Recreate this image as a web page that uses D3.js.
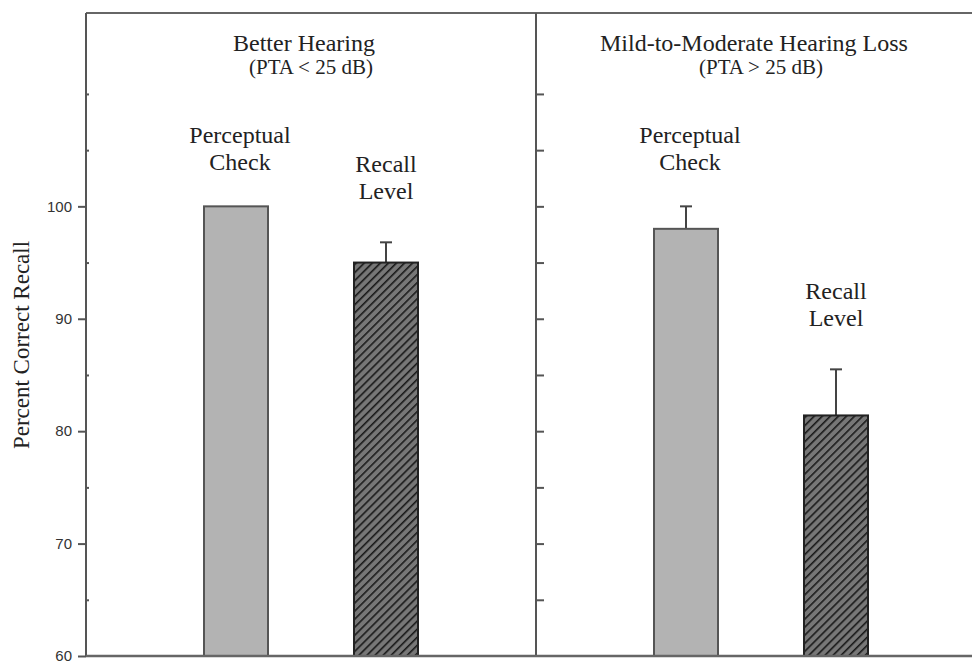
<!DOCTYPE html>
<html>
<head>
  <title>Percent Correct Recall</title>
  <script src="https://d3js.org/d3.v7.min.js"></script>
  <style>
    body { margin: 0; background: #fff; }
    .serif { font-family: "Liberation Serif", "Times New Roman", serif; fill: #222; }
    .tick text { font-family: "Liberation Sans", Arial, sans-serif; font-size: 15px; fill: #333; }
    .axis path, .axis line { stroke: #555; stroke-width: 2; }
  </style>
</head>
<body>
  <script>
    // Data
    var panels = ["Better Hearing", "Mild-to-Moderate Hearing Loss"];
    var subtitles = ["(PTA < 25 dB)", "(PTA > 25 dB)"];
    var conditions = ["Perceptual Check", "Recall Level"];
    var labelLines = [["Perceptual", "Check"], ["Recall", "Level"]];
    var meanBetter = [100, 95.0];
    var errBetter = [0, 1.8];
    var meanLoss = [98.0, 81.4];
    var errLoss = [2.0, 4.1];
    var majorTicks = [60, 70, 80, 90, 100];
    var minorTicks = [65, 75, 85, 95, 105, 110];
    var allTicks = [65, 70, 75, 80, 85, 90, 95, 100, 105, 110];

    var means = [meanBetter, meanLoss];
    var errs = [errBetter, errLoss];

    var width = 972, height = 663;
    var margin = {left: 86, top: 13, bottom: 656};

    var svg = d3.select("body").append("svg")
      .attr("width", width)
      .attr("height", height);

    // hatch pattern for the recall bars
    var pat = svg.append("defs").append("pattern")
      .attr("id", "hatch")
      .attr("patternUnits", "userSpaceOnUse")
      .attr("width", 5.7)
      .attr("height", 5.7)
      .attr("patternTransform", "rotate(45)");
    pat.append("rect").attr("width", 5.7).attr("height", 5.7).attr("fill", "#777");
    pat.append("line").attr("x1", 0).attr("y1", 0).attr("x2", 0).attr("y2", 5.7)
      .attr("stroke", "#1a1a1a").attr("stroke-width", 3.2);

    var fills = ["#b3b3b3", "url(#hatch)"];
    var strokes = ["#555", "#222"];
    var labelOffset = [36, 43];
    var barWidth = 64;

    var y = d3.scaleLinear().domain([60, 117.2]).range([margin.bottom, margin.top]);

    var panelX = d3.scaleBand().domain(panels).range([margin.left, margin.left + 900]);
    var condX = d3.scalePoint().domain(conditions).range([150, 300]);

    // frame: top line
    svg.append("line").attr("x1", margin.left).attr("x2", width)
      .attr("y1", margin.top).attr("y2", margin.top)
      .attr("stroke", "#666").attr("stroke-width", 2);

    panels.forEach(function(p, i) {
      var g = svg.append("g").attr("transform", "translate(" + panelX(p) + ",0)");

      // bars
      conditions.forEach(function(c, j) {
        var cx = condX(c);
        var v = means[i][j], e = errs[i][j];
        if (e > 0) {
          g.append("line").attr("x1", cx).attr("x2", cx)
            .attr("y1", y(v)).attr("y2", y(v + e))
            .attr("stroke", "#444").attr("stroke-width", 2);
          g.append("line").attr("x1", cx - 6).attr("x2", cx + 6)
            .attr("y1", y(v + e)).attr("y2", y(v + e))
            .attr("stroke", "#444").attr("stroke-width", 2);
        }
        g.append("rect")
          .attr("x", cx - barWidth / 2)
          .attr("width", barWidth)
          .attr("y", y(v))
          .attr("height", y(60) - y(v))
          .attr("fill", fills[j])
          .attr("stroke", strokes[j])
          .attr("stroke-width", 2);

        // bar label, two lines above the bar / error bar
        var base = y(v + e) - labelOffset[j];
        labelLines[j].forEach(function(t, k) {
          g.append("text").attr("class", "serif")
            .attr("x", cx + (j === 0 ? 4 : 0))
            .attr("y", base - (labelLines[j].length - 1 - k) * 27)
            .attr("text-anchor", "middle")
            .style("font-size", "24px")
            .text(t);
        });
      });

      // panel titles
      g.append("text").attr("class", "serif")
        .attr("x", 218).attr("y", 51)
        .attr("text-anchor", "middle")
        .style("font-size", "24px")
        .text(p);
      g.append("text").attr("class", "serif")
        .attr("x", 225).attr("y", 74)
        .attr("text-anchor", "middle")
        .style("font-size", "21px")
        .text(subtitles[i]);

      // vertical axis of each panel
      if (i === 0) {
        g.append("g").attr("class", "axis")
          .call(d3.axisLeft(y).tickValues(majorTicks).tickSize(8).tickPadding(6)
            .tickFormat(d3.format("d")))
          .call(function(a) { a.select(".domain").remove(); });
        g.append("g").attr("class", "axis")
          .call(d3.axisRight(y).tickValues(minorTicks).tickSize(3).tickFormat(""))
          .call(function(a) { a.select(".domain").remove(); });
      } else {
        g.append("g").attr("class", "axis")
          .call(d3.axisRight(y).tickValues(allTicks).tickSize(8).tickFormat(""))
          .call(function(a) { a.select(".domain").remove(); });
      }
      g.append("line").attr("x1", 0).attr("x2", 0)
        .attr("y1", margin.top).attr("y2", margin.bottom)
        .attr("stroke", "#555").attr("stroke-width", 2);
    });

    // bottom line
    svg.append("line").attr("x1", margin.left).attr("x2", width)
      .attr("y1", margin.bottom).attr("y2", margin.bottom)
      .attr("stroke", "#666").attr("stroke-width", 2.5);

    // y axis title
    svg.append("text").attr("class", "serif")
      .attr("transform", "translate(29,345) rotate(-90)")
      .attr("text-anchor", "middle")
      .style("font-size", "23px")
      .text("Percent Correct Recall");
  </script>
</body>
</html>
